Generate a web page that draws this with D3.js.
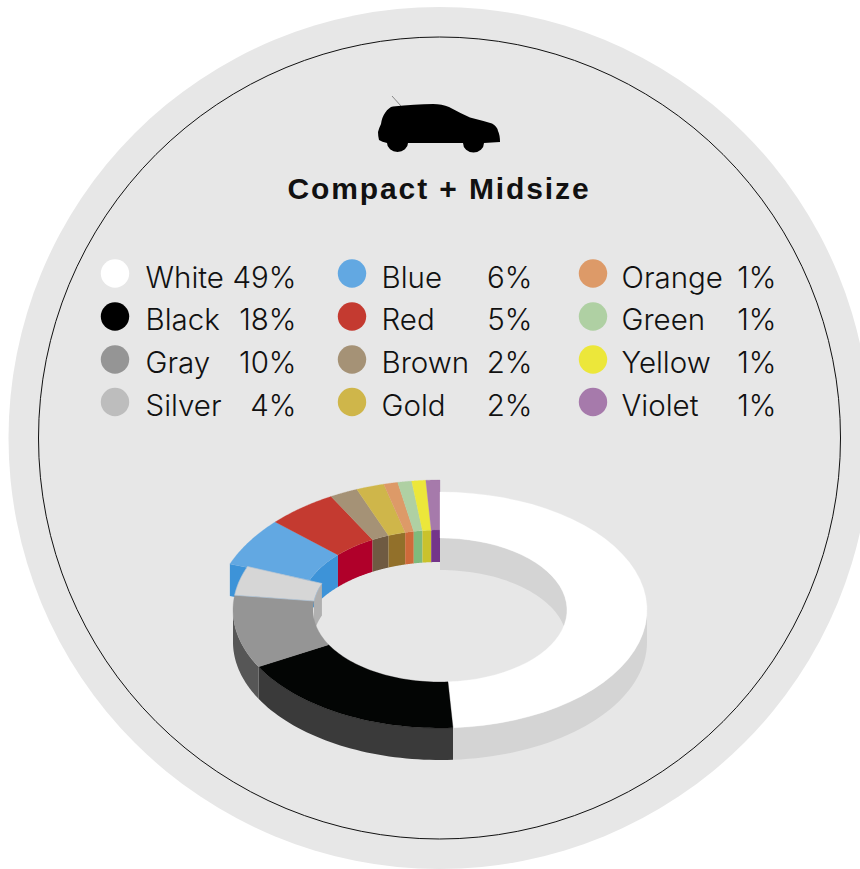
<!DOCTYPE html>
<html><head><meta charset="utf-8">
<script src="https://cdn.jsdelivr.net/npm/d3@7/dist/d3.min.js"></script>
<style>html,body{margin:0;padding:0;background:#fff;overflow:hidden}svg{display:block}
text{font-family:"Liberation Sans",Arial,sans-serif;fill:#111}
</style></head><body><svg id="c" width="860" height="869"></svg>
<script>
const categories=["White","Black","Gray","Silver","Blue","Red","Brown","Gold","Orange","Green","Yellow","Violet"];
const shares=[49,18,10,4,6,5,2,2,1,1,1,1];
const topColors=["#ffffff","#030504","#959595","#d6d6d6","#62a8e2","#c43a30","#a59276","#cfb64a","#dd9a68","#afd0a3","#ece73a","#a67aab"];
const sideColors=["#d4d4d4","#3a3a3a","#565656","#b0b0b0","#3d93d8","#b0002a","#6f5a42","#92702a","#cf6a3a","#7fba7c","#c9c22c","#74358a"];
const legendColors=["#ffffff","#000000","#959595","#bdbdbd","#62a8e2","#c43a30","#a59276","#cfb64a","#dd9a68","#afd0a3","#ece73a","#a67aab"];
const title="Compact + Midsize";

const svg=d3.select("#c");
svg.append("circle").attr("cx",439.5).attr("cy",438).attr("r",431).attr("fill","#e7e7e7");
svg.append("circle").attr("cx",439.5).attr("cy",438).attr("r",401).attr("fill","none").attr("stroke","#111").attr("stroke-width",1);

// car icon
svg.append("path").attr("d","M392 96L401 106").attr("stroke","#888").attr("stroke-width",1);
svg.append("path").attr("fill","#000").attr("d","M379 140Q378 136 378 132Q379 128 381 124Q382 117 385 113Q389 107 393 106.5Q415 104 433 104Q442 104 449 107Q460 113 470 117.5Q482 120.5 492 123.5Q497 126 498 131Q500 135 500 142L484 143A10 9 0 0 1 463 143L408 143A10.500 9 0 0 1 387 143Q382 142 379 140Z");

svg.append("text").attr("x",439).attr("y",199).attr("text-anchor","middle")
  .attr("font-size",30).attr("font-weight",700).attr("letter-spacing",1.9).text(title);

// legend
const colX=[115,352,593], labelX=[145.5,381.5,621.5], valueX=[296.5,532.5,776.5], rowY=[273.5,316.5,359.5,402], textY=[287.5,330,372.5,415.5];
const perCol=4;
const legendText="font-family:Inter;font-weight:300";
const lg=svg.append("g").selectAll("g").data(categories).join("g");
lg.append("circle")
  .attr("cx",(d,i)=>colX[Math.floor(i/perCol)]).attr("cy",(d,i)=>rowY[i%perCol]).attr("r",14.2)
  .attr("fill",(d,i)=>legendColors[i]);
lg.append("text").attr("x",(d,i)=>labelX[Math.floor(i/perCol)]).attr("y",(d,i)=>textY[i%perCol])
  .attr("font-size",29.5).attr("style",legendText).text(d=>d);
lg.append("text").attr("x",(d,i)=>valueX[Math.floor(i/perCol)]).attr("y",(d,i)=>textY[i%perCol])
  .attr("text-anchor","end").attr("font-size",29.5).attr("style",legendText).text((d,i)=>shares[i]+"%");

// donut
const arcs=d3.pie().sort(null).value(d=>d)(shares);
const depth=32;
const normal={outer:{cx:440,cy:610,rx:207,ry:118},inner:{cx:440,cy:610,rx:127,ry:72}};
const lifted={outer:{cx:440,cy:613,rx:226,ry:133},inner:{cx:440,cy:609,rx:140,ry:79}};
const geom=i=>i>=4?lifted:normal;
const pt=(e,a,dy=0)=>[e.cx+e.rx*Math.sin(a),e.cy-e.ry*Math.cos(a)+dy];
const sweep=(e,a0,a1,dy=0)=>d3.range(0,41).map(k=>pt(e,a0+(a1-a0)*k/40,dy));
const line=d3.line();
const poly=p=>line(p)+"Z";
const ringTop=(g,a0,a1)=>poly(sweep(g.outer,a0,a1).concat(sweep(g.inner,a1,a0)));
const wall=(e,a0,a1)=>poly(sweep(e,a0,a1).concat(sweep(e,a1,a0,depth)));

const gSides=svg.append("g"), gTops=svg.append("g");
// outer walls on the front half
[0,1,2].forEach(i=>{
  const a0=Math.max(arcs[i].startAngle,Math.PI/2), a1=Math.min(arcs[i].endAngle,Math.PI*1.5);
  gSides.append("path").attr("d",wall(normal.outer,a0,a1)).attr("fill",sideColors[i]);
});
// cut face at the start of the lifted blue slice
{
  const a=arcs[4].startAngle,g=lifted;
  const p=pt(g.outer,a),q=pt(g.inner,a);
  gSides.append("path").attr("d",poly([p,q,[q[0],q[1]+depth],[p[0],p[1]+depth]])).attr("fill",sideColors[4]);
}
// inner walls on the back half
[4,5,6,7,8,9,10,11,0,3].forEach(i=>{
  const d=arcs[i];
  const a0=i===0?0:d.startAngle, a1=i===0?Math.PI/2:d.endAngle;
  gSides.append("path").attr("d",wall(geom(i).inner,a0,a1)).attr("fill",sideColors[i]);
});
const order=[4,5,6,7,8,9,10,11,0,1,2,3];
order.forEach(i=>{
  const d=arcs[i];
  gTops.append("path").attr("d",ringTop(geom(i),d.startAngle,d.endAngle)).attr("fill",topColors[i])
    .attr("stroke",i===3?"#b9c6d2":topColors[i]).attr("stroke-width",i===3?0.7:0.3);
});
</script></body></html>
